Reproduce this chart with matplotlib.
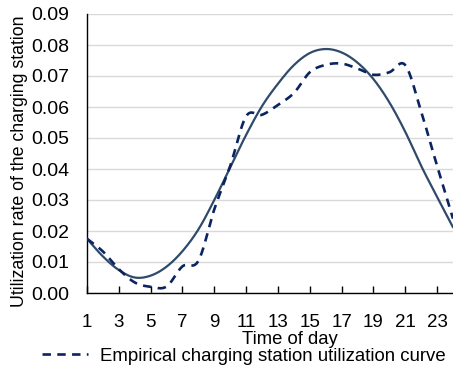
import numpy as np
import matplotlib.pyplot as plt

plt.rcParams['font.family'] = ['Liberation Sans', 'DejaVu Sans']

# hourly utilization rates (hour 1..24)
hours = list(range(1, 25))
model_curve = [0.0175, 0.0118, 0.0074, 0.0050, 0.0056, 0.0085, 0.0135, 0.0205,
               0.0300, 0.0405, 0.0510, 0.0603, 0.0675, 0.0735, 0.0774, 0.0787,
               0.0776, 0.0743, 0.0690, 0.0615, 0.0520, 0.0410, 0.0310, 0.0212]
empirical_curve = [0.0175, 0.0134, 0.0077, 0.0034, 0.0020, 0.0021, 0.0086, 0.0104,
                   0.0270, 0.0410, 0.0570, 0.0575, 0.0607, 0.0645, 0.0712, 0.0736,
                   0.0740, 0.0724, 0.0704, 0.0712, 0.0735, 0.0585, 0.0410, 0.0240]
xtick_labels = [str(h) for h in range(1, 24, 2)]


def smooth(x, y, n=20):
    # Catmull-Rom spline through the points, like a spreadsheet "smoothed line"
    x = np.asarray(x, float)
    y = np.asarray(y, float)
    px = np.concatenate([[2 * x[0] - x[1]], x, [2 * x[-1] - x[-2]]])
    py = np.concatenate([[2 * y[0] - y[1]], y, [2 * y[-1] - y[-2]]])
    xs, ys = [], []
    t = np.linspace(0, 1, n, endpoint=False)
    for i in range(1, len(px) - 2):
        for arr, out in ((px, xs), (py, ys)):
            p0, p1, p2, p3 = arr[i - 1], arr[i], arr[i + 1], arr[i + 2]
            out.extend(0.5 * (2 * p1 + (-p0 + p2) * t
                              + (2 * p0 - 5 * p1 + 4 * p2 - p3) * t ** 2
                              + (-p0 + 3 * p1 - 3 * p2 + p3) * t ** 3))
    xs.append(x[-1])
    ys.append(y[-1])
    return np.array(xs), np.array(ys)


fig = plt.figure(figsize=(4.53, 3.68), dpi=100)
ax = fig.add_axes([87 / 453, 1 - 293 / 368, 1 - 87 / 453, (293 - 14) / 368])

sx, sy = smooth(hours, model_curve)
ax.plot(sx, sy, color='#2F4A6A', lw=1.6, solid_capstyle='round', zorder=3)
ex, ey = smooth(hours, empirical_curve)
line_emp, = ax.plot(ex, ey, color='#0B2461', lw=1.9, dashes=(3.2, 2.4),
                    zorder=4, label='Empirical charging station utilization curve')

ax.set_xlim(1, 24)
ax.set_ylim(0, 0.09)
ax.set_yticks(np.arange(0, 0.091, 0.01))
ax.set_yticklabels([f'{v:.2f}' for v in np.arange(0, 0.091, 0.01)])
ax.set_xticks(range(1, 24, 2))
ax.set_xticklabels(xtick_labels)

ax.grid(axis='y', color='#D9D9D9', lw=1.0)
ax.set_axisbelow(True)
for s in ('top', 'right'):
    ax.spines[s].set_visible(False)
for s in ('left', 'bottom'):
    ax.spines[s].set_color('black')
    ax.spines[s].set_linewidth(1.0)

ax.tick_params(axis='x', direction='in', length=5, width=1, pad=15,
               labelsize=13.5)
ax.tick_params(axis='y', length=0, pad=13, labelsize=14)

fig.text(290 / 453, 1 - 339 / 368, 'Time of day', ha='center', va='center',
         fontsize=13.3)
fig.text(20 / 453, 1 - 161 / 368, 'Utilization rate of the charging station',
         ha='center', va='center', rotation=90, fontsize=12.8)

fig.legend(handles=[line_emp], loc='center', frameon=False, fontsize=13.4,
           bbox_to_anchor=(244 / 453, 1 - 356 / 368), handlelength=2.45,
           handletextpad=0.65, borderpad=0, borderaxespad=0)

fig.savefig('out.png', dpi=100)
